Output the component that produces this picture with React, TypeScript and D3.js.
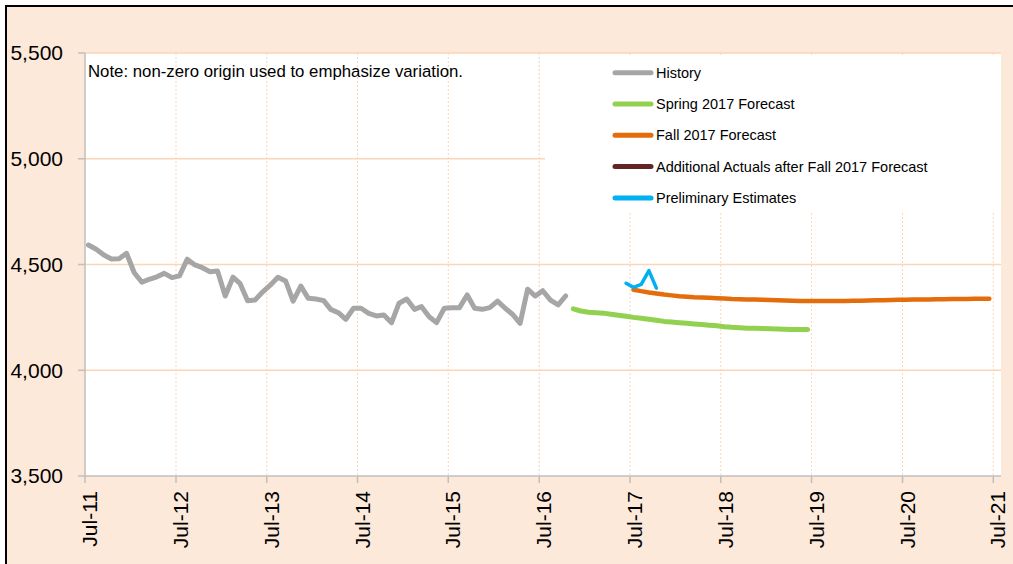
import * as d3 from 'd3';

// monthly values, dated mid-month
const historyStart = [2011, 6];
const historyValues = [
  4592, 4572, 4545, 4526, 4527, 4553, 4461, 4416, 4430, 4442, 4458, 4438,
  4446, 4525, 4498, 4485, 4466, 4469, 4351, 4440, 4411, 4329, 4332, 4371,
  4402, 4440, 4422, 4327, 4398, 4340, 4337, 4329, 4288, 4272, 4241, 4293,
  4293, 4269, 4257, 4261, 4225, 4317, 4337, 4288, 4301, 4253, 4225, 4293,
  4296, 4296, 4356, 4293, 4288, 4296, 4327, 4293, 4265, 4222, 4383, 4351,
  4376, 4332, 4309, 4351,
];

const springStart = [2016, 10];
const springValues = [
  4290, 4280, 4274, 4272, 4270, 4265, 4260, 4255, 4250, 4246, 4241, 4236,
  4231, 4228, 4225, 4222, 4219, 4216, 4213, 4210, 4206, 4203, 4201, 4199,
  4198, 4197, 4196, 4195, 4194, 4193, 4193, 4193,
];

const fallStart = [2017, 6];
const fallValues = [
  4381, 4374, 4368, 4363, 4358, 4354, 4350, 4347, 4345, 4344, 4343, 4341,
  4339, 4337, 4336, 4335, 4334, 4333, 4332, 4331, 4330, 4329, 4328, 4328,
  4328, 4328, 4328, 4328, 4328, 4329, 4329, 4330, 4331, 4331, 4332, 4333,
  4333, 4334, 4335, 4335, 4336, 4336, 4337, 4337, 4337, 4338, 4338, 4338,
];

const prelimStart = [2017, 5];
const prelimValues = [4411, 4392, 4406, 4471, 4388];

const yTicks = [3500, 4000, 4500, 5000, 5500];
const xTickYears = [2011, 2012, 2013, 2014, 2015, 2016, 2017, 2018, 2019, 2020, 2021];

const legendItems = [
  { label: 'History', color: '#A6A6A6' },
  { label: 'Spring 2017 Forecast', color: '#92D050' },
  { label: 'Fall 2017 Forecast', color: '#E46C0A' },
  { label: 'Additional Actuals after Fall 2017 Forecast', color: '#632523' },
  { label: 'Preliminary Estimates', color: '#00B0F0' },
];

const toPoints = (start: number[], values: number[]) =>
  values.map((v, i) => ({ date: new Date(start[0], start[1] + i, 15), value: v }));

const App = () => {
  const width = 1013;
  const height = 564;
  const plot = { left: 85, right: 1001, top: 53, bottom: 476 };
  const font = '"Liberation Sans", Arial, sans-serif';

  const x = d3
    .scaleTime()
    .domain([new Date(2011, 6, 1), new Date(2021, 7, 1)])
    .range([plot.left, plot.right]);

  const y = d3.scaleLinear().domain([3500, 5500]).range([plot.bottom, plot.top]);

  const line = d3
    .line<{ date: Date; value: number }>()
    .x((d) => x(d.date))
    .y((d) => y(d.value));

  const series = [
    { pts: toPoints(historyStart, historyValues), color: '#A6A6A6', w: 5 },
    { pts: toPoints(springStart, springValues), color: '#92D050', w: 5 },
    { pts: toPoints(fallStart, fallValues), color: '#E46C0A', w: 4.5 },
    { pts: toPoints(prelimStart, prelimValues), color: '#00B0F0', w: 3.5 },
  ];

  const grid = '#FCD5B5';
  const axisColor = '#BFBFBF';

  return (
    <svg
      width={width}
      height={height}
      style={{ position: 'absolute', left: 0, top: 0, fontFamily: font }}
    >
      <rect x={0} y={0} width={width} height={height} fill="#fff" />
      <rect x={6} y={6} width={width + 20} height={height + 20} fill="#FDE9D9" stroke="#000" strokeWidth={2} />
      <rect
        x={plot.left}
        y={plot.top}
        width={plot.right - plot.left}
        height={plot.bottom - plot.top}
        fill="#fff"
      />

      {/* vertical dotted grid */}
      {xTickYears.slice(1).map((yr) => (
        <line
          key={'vg' + yr}
          x1={x(new Date(yr, 6, 1))}
          x2={x(new Date(yr, 6, 1))}
          y1={plot.top}
          y2={plot.bottom}
          stroke={grid}
          strokeWidth={1}
          strokeDasharray="2,2"
        />
      ))}
      {/* horizontal grid */}
      {yTicks.slice(1).map((t) => (
        <line
          key={'hg' + t}
          x1={plot.left}
          x2={plot.right}
          y1={y(t)}
          y2={y(t)}
          stroke={grid}
          strokeWidth={1.5}
        />
      ))}

      {/* legend box covers the grid */}
      <rect x={545} y={56} width={plot.right - 545} height={156} fill="#fff" />

      {/* axes */}
      <line x1={plot.left} x2={plot.left} y1={plot.top} y2={plot.bottom} stroke={axisColor} strokeWidth={1.5} />
      <line x1={plot.left} x2={plot.right} y1={plot.bottom} y2={plot.bottom} stroke={axisColor} strokeWidth={1.5} />
      {yTicks.map((t) => (
        <g key={'yt' + t}>
          <line x1={plot.left - 7} x2={plot.left} y1={y(t)} y2={y(t)} stroke={axisColor} strokeWidth={1.5} />
          <text x={63} y={y(t)} dy="0.35em" textAnchor="end" fontSize={21} fill="#000">
            {d3.format(',')(t)}
          </text>
        </g>
      ))}
      {xTickYears.map((yr) => {
        const xx = x(new Date(yr, 6, 1));
        return (
          <g key={'xt' + yr}>
            <line x1={xx} x2={xx} y1={plot.bottom} y2={plot.bottom + 7} stroke={axisColor} strokeWidth={1.5} />
            <text
              transform={`translate(${xx},491) rotate(-90)`}
              dy={12}
              textAnchor="end"
              fontSize={21}
              fill="#000"
            >
              {d3.timeFormat('%b-%y')(new Date(yr, 6, 1))}
            </text>
          </g>
        );
      })}

      {/* series */}
      {series.map((s, i) => (
        <path
          key={'s' + i}
          d={line(s.pts) || ''}
          fill="none"
          stroke={s.color}
          strokeWidth={s.w}
          strokeLinejoin="round"
          strokeLinecap="round"
        />
      ))}

      <text x={88} y={77} fontSize={16.8} fill="#000">
        Note: non-zero origin used to emphasize variation.
      </text>

      {/* legend */}
      {legendItems.map((item, i) => {
        const ly = 72.7 + i * 31.3;
        return (
          <g key={'lg' + i}>
            <line x1={615} x2={651} y1={ly} y2={ly} stroke={item.color} strokeWidth={5} strokeLinecap="round" />
            <text x={656} y={ly} dy="0.35em" fontSize={14.5} fill="#000">
              {item.label}
            </text>
          </g>
        );
      })}
    </svg>
  );
};

export default App;
